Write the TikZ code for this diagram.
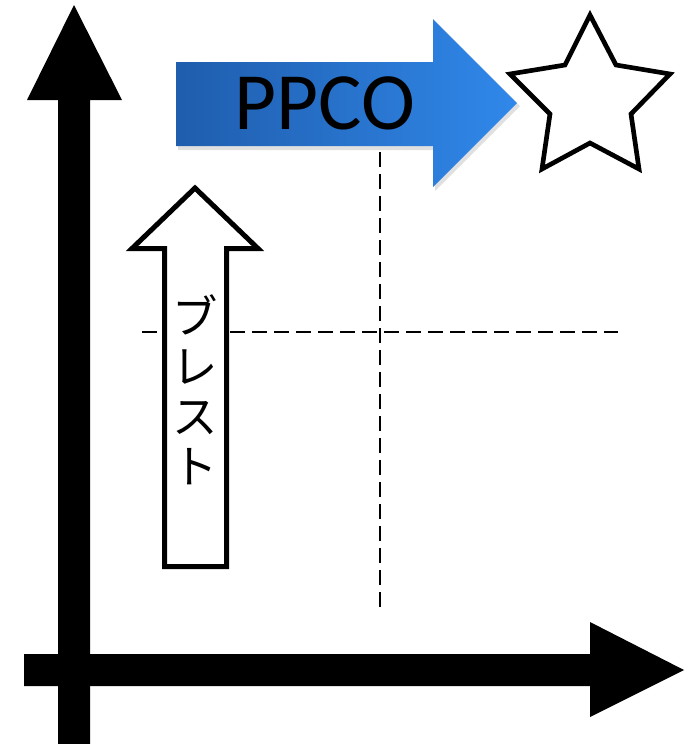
\documentclass[tikz,border=0pt]{standalone}
\usepackage{fontspec}
\setmainfont{Carlito}
\newfontfamily\jpfont{Noto Sans CJK JP}
\definecolor{bluedark}{HTML}{1F5DAD}
\definecolor{bluelight}{HTML}{3088EA}
\tikzset{
  axisshape/.style={fill=black, draw=none},
  dashline/.style={line width=1pt, dash pattern=on 11.25pt off 5.25pt},
  whitearrow/.style={draw=black, fill=white, line width=3.75pt, miter limit=10},
  bluearrow/.style={left color=bluedark, right color=bluelight, draw=none},
  starshape/.style={draw=black, fill=white, line width=3.5pt, miter limit=10},
  bigtext/.style={font=\fontsize{61}{61}\selectfont, text=black, inner sep=0pt},
  jptext/.style={font=\jpfont\fontsize{34}{37.5}\selectfont, align=center, inner sep=0pt}
}
\begin{document}
\begin{tikzpicture}[x=0.75pt,y=-0.75pt]
\useasboundingbox (0,0) rectangle (697,744);
% dashed guide lines
\draw[dashline] (380,152) -- (380,607);
\draw[dashline] (142,332) -- (618,332);
% vertical axis
\fill[axisshape] (58,744) -- (58,100) -- (27,100) -- (74,5) -- (122,100) -- (90,100) -- (90,744) -- cycle;
% horizontal axis
\fill[axisshape] (24,654) -- (590,654) -- (590,622) -- (684,670) -- (590,717) -- (590,686) -- (24,686) -- cycle;
% blue arrow shadow
\fill[black, opacity=0.12] (178,65) -- (435,65) -- (435,22) -- (520,106) -- (435,191) -- (435,150) -- (178,150) -- cycle;
% blue arrow
\shade[bluearrow] (176,62) -- (433,62) -- (433,19) -- (517,103) -- (433,187) -- (433,146) -- (176,146) -- cycle;
\node[bigtext] (ppco) at (325,103) {PPCO};
% star
\draw[starshape] (590,15) -- (616,65) -- (670,74) -- (631,114) -- (639,169) -- (590,143) -- (542,169) -- (550,114) -- (510,74) -- (565,65) -- cycle;
% white up arrow
\draw[whitearrow] (164.5,566.5) -- (164.5,248.5) -- (132,248.5) -- (195,188) -- (258,248.5) -- (226.5,248.5) -- (226.5,566.5) -- cycle;
\node[jptext] (brest) at (195,390) {ブ\\レ\\ス\\ト};
\end{tikzpicture}
\end{document}
